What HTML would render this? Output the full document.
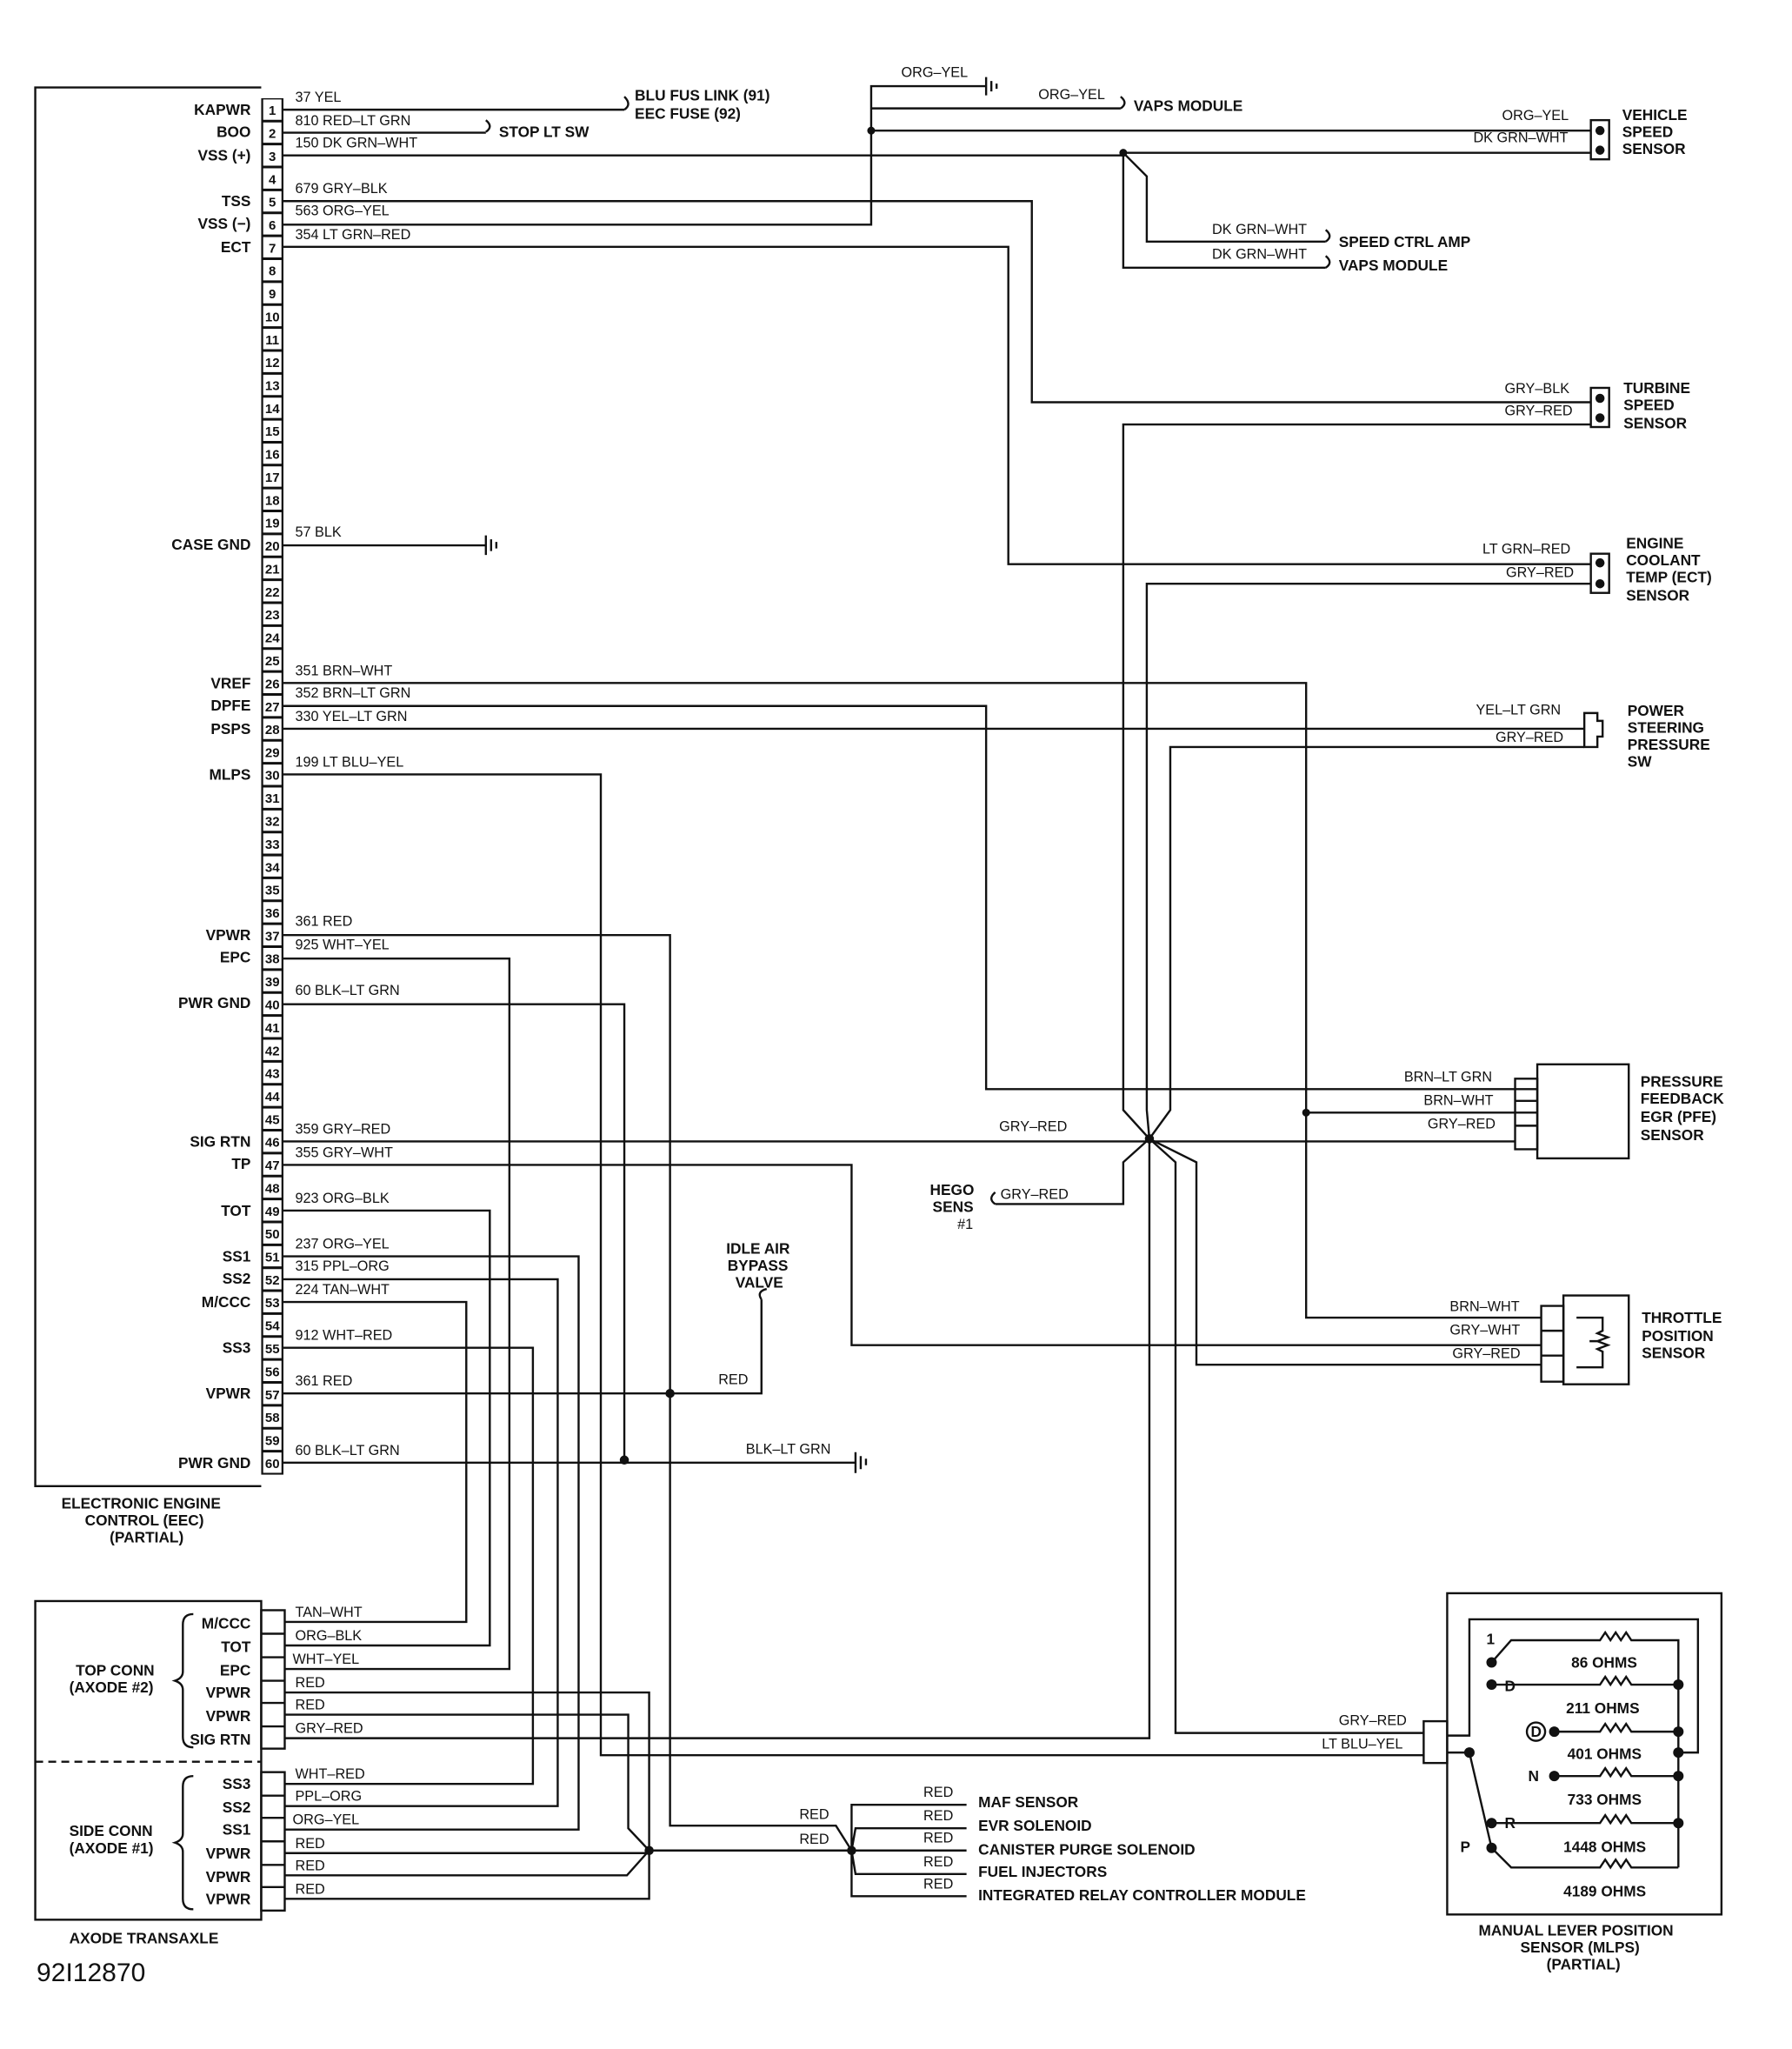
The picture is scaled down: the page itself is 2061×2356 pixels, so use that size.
<!DOCTYPE html>
<html><head><meta charset="utf-8"><style>
html,body{margin:0;padding:0;background:#fff}
svg{display:block}
text{font-family:"Liberation Sans",Arial,sans-serif;font-size:11.5px;font-weight:bold;fill:#111}
.s{font-size:10.8px;font-weight:normal}
.n{font-size:10px;text-anchor:middle}
.r{text-anchor:end}
</style></head><body>
<svg width="2061" height="2356" viewBox="0 0 1372 1569" preserveAspectRatio="none" xmlns="http://www.w3.org/2000/svg">
<g fill="none" stroke="#111" stroke-width="1.6">
<path d="M200 67H27V1138H200"/>
<path d="M217 84H478M217 101.6H372M217 119H860M860 117H1218M217 154H790V308H1218M217 172H667V66H755M667 100H1218M667 83H858M217 189H772V432H1218"/>
<path d="M860 117L878 135V185H1015M860 117V205H1015"/>
<path d="M217 417.6H372"/>
<path d="M217 523H1000V1009H1180M1000 852H1177M217 540.6H755V834H1177M217 558H1213M217 593H460V1344H1090"/>
<path d="M217 716H513V1398H640L652 1417M217 734H390V1278H218M217 769H478V1118M217 874H1160M217 892H652V1030H1180"/>
<path d="M217 927H375V1260H218M217 962H443V1401H218M217 979.6H427V1383H218M217 997H357V1242H218M217 1032H408V1366H218M217 1067H583V995M217 1120H655"/>
<path d="M880 872L860 850V325H1218M880 872L878 850V447H1218M880 872L896 850V572H1213M762 922H860V890L880 872M880 872V1331H218M880 872L900 890V1327H1090M880 872L916 890V1045H1180"/>
<path d="M218 1296H497V1417M218 1313H481V1400L497 1417M218 1419H497M218 1436H480L497 1417M218 1454H497V1417M497 1417H652"/>
<path d="M652 1417L652 1382H740M652 1417L655 1400H740M652 1417H740M652 1417L655 1435H740M652 1417L652 1452H740"/>
<path d="M755 59V73M759 62V70M763 64V68M372 410V425M376 413V422M380 415V420M655 1112V1128M659 1115V1125M663 1117V1122"/>
<path d="M478 84q6-4 0-10M372 101q6-4 0-9M858 83q6-4 0-9M1015 185q6-4 0-9M1015 205q6-4 0-9M762 922q-6-4 0-9M583 995q-4-6 4-8"/>
<rect x="1218" y="92" width="14" height="30"/>
<rect x="1218" y="297" width="14" height="30"/>
<rect x="1218" y="424" width="14" height="30"/>
<path d="M1213 546h10v6h4v12h-4v8h-10z"/>
<rect x="1177" y="815" width="70" height="72"/>
<path d="M1160 826h17v54h-17zM1160 843h17M1160 862h17"/>
<rect x="1197" y="992" width="50" height="68"/>
<path d="M1180 1000h17v58h-17zM1180 1019h17M1180 1038h17"/>
<path d="M1207 1009h20v10l-4 2 8 3-8 3 8 3-8 3 4 2v12h-20M1217 1027h6"/>
<rect x="27" y="1226" width="173" height="244"/>
<path d="M27 1349H200" stroke-dasharray="6 4"/>
<rect x="200" y="1233" width="18" height="106"/>
<path d="M200 1251h18M200 1269h18M200 1287h18M200 1304h18M200 1322h18"/>
<rect x="200" y="1357" width="18" height="106"/>
<path d="M200 1375h18M200 1392h18M200 1410h18M200 1428h18M200 1445h18"/>
<path d="M148 1236q-8 0-8 8v36q0 5-6 7q6 2 6 7v36q0 8 8 8M148 1360q-8 0-8 8v36q0 5-6 7q6 2 6 7v36q0 8 8 8"/>
<rect x="1108" y="1220" width="210" height="246"/>
<rect x="1090" y="1318" width="18" height="32"/>
<path d="M1108 1329H1125V1240H1300V1342H1285M1108 1342H1125L1142 1415M1142 1273L1157 1256H1225l4-6 4 6 4-6 4 6 4-6 4 6H1285V1430M1142 1290H1225l4-6 4 6 4-6 4 6 4-6 4 6H1285M1190 1326H1225l4-6 4 6 4-6 4 6 4-6 4 6H1285M1190 1360H1225l4-6 4 6 4-6 4 6 4-6 4 6H1285M1142 1396H1225l4-6 4 6 4-6 4 6 4-6 4 6H1285M1142 1415L1157 1430H1225l4-6 4 6 4-6 4 6 4-6 4 6H1285"/>
<circle cx="1176" cy="1326" r="7"/>
</g>
<rect x="200" y="75.2" width="17" height="1054" fill="#111"/>
<line x1="208.5" y1="76.2" x2="208.5" y2="1128" stroke="#fff" stroke-width="14" stroke-dasharray="15.56 2"/>
<g fill="#111">
<circle cx="667" cy="100" r="3"/><circle cx="860" cy="117" r="3"/><circle cx="880" cy="872" r="3.5"/>
<circle cx="1000" cy="852" r="3"/><circle cx="513" cy="1067" r="3.5"/><circle cx="478" cy="1118" r="3.5"/>
<circle cx="497" cy="1417" r="3.5"/><circle cx="652" cy="1417" r="3.5"/>
<circle cx="1225" cy="100" r="3.5"/><circle cx="1225" cy="115" r="3.5"/><circle cx="1225" cy="305" r="3.5"/><circle cx="1225" cy="320" r="3.5"/><circle cx="1225" cy="431" r="3.5"/><circle cx="1225" cy="447" r="3.5"/>
<circle cx="1142" cy="1273" r="4"/><circle cx="1142" cy="1290" r="4"/><circle cx="1190" cy="1326" r="4"/><circle cx="1190" cy="1360" r="4"/><circle cx="1142" cy="1396" r="4"/><circle cx="1142" cy="1415" r="4"/><circle cx="1125" cy="1342" r="4"/>
<circle cx="1285" cy="1290" r="4"/><circle cx="1285" cy="1326" r="4"/><circle cx="1285" cy="1342" r="4"/><circle cx="1285" cy="1360" r="4"/><circle cx="1285" cy="1396" r="4"/>
</g>
<g class="n">
<text class="n" x="208.5" y="88">1</text><text class="n" x="208.5" y="105.6">2</text><text class="n" x="208.5" y="123.1">3</text><text class="n" x="208.5" y="140.7">4</text><text class="n" x="208.5" y="158.2">5</text><text class="n" x="208.5" y="175.8">6</text><text class="n" x="208.5" y="193.4">7</text><text class="n" x="208.5" y="210.9">8</text><text class="n" x="208.5" y="228.5">9</text><text class="n" x="208.5" y="246">10</text><text class="n" x="208.5" y="263.6">11</text><text class="n" x="208.5" y="281.2">12</text><text class="n" x="208.5" y="298.7">13</text><text class="n" x="208.5" y="316.3">14</text><text class="n" x="208.5" y="333.8">15</text><text class="n" x="208.5" y="351.4">16</text><text class="n" x="208.5" y="369">17</text><text class="n" x="208.5" y="386.5">18</text><text class="n" x="208.5" y="404">19</text><text class="n" x="208.5" y="421.6">20</text><text class="n" x="208.5" y="439.2">21</text><text class="n" x="208.5" y="456.8">22</text><text class="n" x="208.5" y="474.3">23</text><text class="n" x="208.5" y="491.9">24</text><text class="n" x="208.5" y="509.4">25</text><text class="n" x="208.5" y="527">26</text><text class="n" x="208.5" y="544.6">27</text><text class="n" x="208.5" y="562.1">28</text><text class="n" x="208.5" y="579.7">29</text><text class="n" x="208.5" y="597.2">30</text><text class="n" x="208.5" y="614.8">31</text><text class="n" x="208.5" y="632.4">32</text><text class="n" x="208.5" y="649.9">33</text><text class="n" x="208.5" y="667.5">34</text><text class="n" x="208.5" y="685">35</text><text class="n" x="208.5" y="702.6">36</text><text class="n" x="208.5" y="720.2">37</text><text class="n" x="208.5" y="737.7">38</text><text class="n" x="208.5" y="755.3">39</text><text class="n" x="208.5" y="772.8">40</text><text class="n" x="208.5" y="790.4">41</text><text class="n" x="208.5" y="808">42</text><text class="n" x="208.5" y="825.5">43</text><text class="n" x="208.5" y="843.1">44</text><text class="n" x="208.5" y="860.6">45</text><text class="n" x="208.5" y="878.2">46</text><text class="n" x="208.5" y="895.8">47</text><text class="n" x="208.5" y="913.3">48</text><text class="n" x="208.5" y="930.9">49</text><text class="n" x="208.5" y="948.4">50</text><text class="n" x="208.5" y="966">51</text><text class="n" x="208.5" y="983.6">52</text><text class="n" x="208.5" y="1001.1">53</text><text class="n" x="208.5" y="1018.7">54</text><text class="n" x="208.5" y="1036.2">55</text><text class="n" x="208.5" y="1053.8">56</text><text class="n" x="208.5" y="1071.4">57</text><text class="n" x="208.5" y="1088.9">58</text><text class="n" x="208.5" y="1106.5">59</text><text class="n" x="208.5" y="1124">60</text>
</g>
<g>
<text class="r" x="192" y="88">KAPWR</text><text class="r" x="192" y="105">BOO</text><text class="r" x="192" y="123">VSS (+)</text><text class="r" x="192" y="158">TSS</text><text class="r" x="192" y="175">VSS (−)</text><text class="r" x="192" y="193">ECT</text><text class="r" x="192" y="421">CASE GND</text><text class="r" x="192" y="527">VREF</text><text class="r" x="192" y="544">DPFE</text><text class="r" x="192" y="562">PSPS</text><text class="r" x="192" y="597">MLPS</text><text class="r" x="192" y="720">VPWR</text><text class="r" x="192" y="737">EPC</text><text class="r" x="192" y="772">PWR GND</text><text class="r" x="192" y="878">SIG RTN</text><text class="r" x="192" y="895">TP</text><text class="r" x="192" y="931">TOT</text><text class="r" x="192" y="966">SS1</text><text class="r" x="192" y="983">SS2</text><text class="r" x="192" y="1001">M/CCC</text><text class="r" x="192" y="1036">SS3</text><text class="r" x="192" y="1071">VPWR</text><text class="r" x="192" y="1124">PWR GND</text>
<text x="47" y="1155">ELECTRONIC ENGINE</text><text x="65" y="1168">CONTROL (EEC)</text><text x="84" y="1181">(PARTIAL)</text>
</g>
<g class="s">
<text class="s" x="226" y="78">37 YEL</text><text class="s" x="226" y="96">810 RED–LT GRN</text><text class="s" x="226" y="113">150 DK GRN–WHT</text><text class="s" x="226" y="148">679 GRY–BLK</text><text class="s" x="226" y="165">563 ORG–YEL</text><text class="s" x="226" y="183">354 LT GRN–RED</text><text class="s" x="226" y="411">57 BLK</text><text class="s" x="226" y="517">351 BRN–WHT</text><text class="s" x="226" y="534">352 BRN–LT GRN</text><text class="s" x="226" y="552">330 YEL–LT GRN</text><text class="s" x="226" y="587">199 LT BLU–YEL</text><text class="s" x="226" y="709">361 RED</text><text class="s" x="226" y="727">925 WHT–YEL</text><text class="s" x="226" y="762">60 BLK–LT GRN</text><text class="s" x="226" y="868">359 GRY–RED</text><text class="s" x="226" y="886">355 GRY–WHT</text><text class="s" x="226" y="921">923 ORG–BLK</text><text class="s" x="226" y="956">237 ORG–YEL</text><text class="s" x="226" y="973">315 PPL–ORG</text><text class="s" x="226" y="991">224 TAN–WHT</text><text class="s" x="226" y="1026">912 WHT–RED</text><text class="s" x="226" y="1061">361 RED</text><text class="s" x="226" y="1114">60 BLK–LT GRN</text>
<text class="s" x="690" y="59">ORG–YEL</text><text class="s" x="795" y="76">ORG–YEL</text><text class="s" x="1150" y="92">ORG–YEL</text><text class="s" x="1128" y="109">DK GRN–WHT</text><text class="s" x="928" y="179">DK GRN–WHT</text><text class="s" x="928" y="198">DK GRN–WHT</text>
<text class="s" x="1152" y="301">GRY–BLK</text><text class="s" x="1152" y="318">GRY–RED</text><text class="s" x="1135" y="424">LT GRN–RED</text><text class="s" x="1153" y="442">GRY–RED</text><text class="s" x="1130" y="547">YEL–LT GRN</text><text class="s" x="1145" y="568">GRY–RED</text>
<text class="s" x="1075" y="828">BRN–LT GRN</text><text class="s" x="1090" y="846">BRN–WHT</text><text class="s" x="1093" y="864">GRY–RED</text><text class="s" x="765" y="866">GRY–RED</text><text class="s" x="766" y="918">GRY–RED</text>
<text class="s" x="1110" y="1004">BRN–WHT</text><text class="s" x="1110" y="1022">GRY–WHT</text><text class="s" x="1112" y="1040">GRY–RED</text>
<text class="s" x="550" y="1060">RED</text><text class="s" x="571" y="1113">BLK–LT GRN</text>
<text class="s" x="1025" y="1321">GRY–RED</text><text class="s" x="1012" y="1339">LT BLU–YEL</text>
<text class="s" x="612" y="1393">RED</text><text class="s" x="612" y="1412">RED</text>
<text class="s" x="707" y="1376">RED</text><text class="s" x="707" y="1394">RED</text><text class="s" x="707" y="1411">RED</text><text class="s" x="707" y="1429">RED</text><text class="s" x="707" y="1446">RED</text>
<text class="s" x="226" y="1238">TAN–WHT</text><text class="s" x="226" y="1256">ORG–BLK</text><text class="s" x="224" y="1274">WHT–YEL</text><text class="s" x="226" y="1292">RED</text><text class="s" x="226" y="1309">RED</text><text class="s" x="226" y="1327">GRY–RED</text>
<text class="s" x="226" y="1362">WHT–RED</text><text class="s" x="226" y="1379">PPL–ORG</text><text class="s" x="224" y="1397">ORG–YEL</text><text class="s" x="226" y="1415">RED</text><text class="s" x="226" y="1432">RED</text><text class="s" x="226" y="1450">RED</text>
</g>
<g>
<text x="486" y="77">BLU FUS LINK (91)</text><text x="486" y="91">EEC FUSE (92)</text><text x="382" y="105">STOP LT SW</text><text x="868" y="85">VAPS MODULE</text>
<text x="1242" y="92">VEHICLE</text><text x="1242" y="105">SPEED</text><text x="1242" y="118">SENSOR</text>
<text x="1025" y="189">SPEED CTRL AMP</text><text x="1025" y="207">VAPS MODULE</text>
<text x="1243" y="301">TURBINE</text><text x="1243" y="314">SPEED</text><text x="1243" y="328">SENSOR</text>
<text x="1245" y="420">ENGINE</text><text x="1245" y="433">COOLANT</text><text x="1245" y="446">TEMP (ECT)</text><text x="1245" y="460">SENSOR</text>
<text x="1246" y="548">POWER</text><text x="1246" y="561">STEERING</text><text x="1246" y="574">PRESSURE</text><text x="1246" y="587">SW</text>
<text x="1256" y="832">PRESSURE</text><text x="1256" y="845">FEEDBACK</text><text x="1256" y="859">EGR (PFE)</text><text x="1256" y="873">SENSOR</text>
<text x="1257" y="1013">THROTTLE</text><text x="1257" y="1027">POSITION</text><text x="1257" y="1040">SENSOR</text>
<text x="712" y="915">HEGO</text><text x="714" y="928">SENS</text><text x="733" y="941" class="s">#1</text>
<text x="556" y="960">IDLE AIR</text><text x="557" y="973">BYPASS</text><text x="563" y="986">VALVE</text>
<text x="749" y="1384">MAF SENSOR</text><text x="749" y="1402">EVR SOLENOID</text><text x="749" y="1420">CANISTER PURGE SOLENOID</text><text x="749" y="1437">FUEL INJECTORS</text><text x="749" y="1455">INTEGRATED RELAY CONTROLLER MODULE</text>
<text class="r" x="192" y="1247">M/CCC</text><text class="r" x="192" y="1265">TOT</text><text class="r" x="192" y="1283">EPC</text><text class="r" x="192" y="1300">VPWR</text><text class="r" x="192" y="1318">VPWR</text><text class="r" x="192" y="1336">SIG RTN</text>
<text class="r" x="192" y="1370">SS3</text><text class="r" x="192" y="1388">SS2</text><text class="r" x="192" y="1405">SS1</text><text class="r" x="192" y="1423">VPWR</text><text class="r" x="192" y="1441">VPWR</text><text class="r" x="192" y="1458">VPWR</text>
<text x="58" y="1283">TOP CONN</text><text x="53" y="1296">(AXODE #2)</text><text x="53" y="1406">SIDE CONN</text><text x="53" y="1419">(AXODE #1)</text>
<text x="53" y="1488">AXODE TRANSAXLE</text>
<text x="28" y="1517" style="font-size:20px;font-weight:normal">92I12870</text>
<text x="1138" y="1259">1</text><text x="1152" y="1295">D</text><text x="1172" y="1330">D</text><text x="1170" y="1364">N</text><text x="1152" y="1400">R</text><text x="1118" y="1418">P</text>
<text x="1203" y="1277">86 OHMS</text><text x="1199" y="1312">211 OHMS</text><text x="1200" y="1347">401 OHMS</text><text x="1200" y="1382">733 OHMS</text><text x="1197" y="1418">1448 OHMS</text><text x="1197" y="1452">4189 OHMS</text>
<text x="1132" y="1482">MANUAL LEVER POSITION</text><text x="1164" y="1495">SENSOR (MLPS)</text><text x="1184" y="1508">(PARTIAL)</text>
</g>
</svg>
</body></html>
